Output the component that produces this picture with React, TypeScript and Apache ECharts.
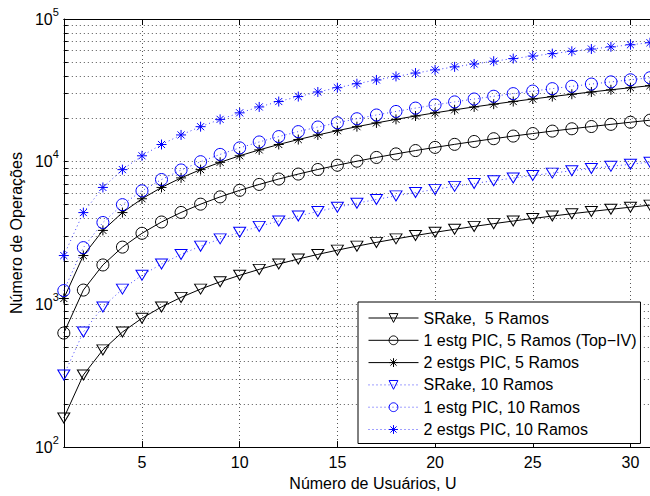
import React, { useEffect, useRef } from 'react';
import * as echarts from 'echarts';

// Número de usuários U
const users = [1, 2, 3, 4, 5, 6, 7, 8, 9, 10, 11, 12, 13, 14, 15, 16, 17, 18, 19, 20, 21, 22, 23, 24, 25, 26, 27, 28, 29, 30, 31];

const srake5 = [160, 320, 480, 640, 800, 960, 1120, 1280, 1440, 1600, 1760, 1920, 2080, 2240, 2400, 2560, 2720, 2880, 3040, 3200, 3360, 3520, 3680, 3840, 4000, 4160, 4320, 4480, 4640, 4800, 4960];
const pic1Est5 = [630, 1260, 1890, 2520, 3150, 3780, 4410, 5040, 5670, 6300, 6930, 7560, 8190, 8820, 9450, 10080, 10710, 11340, 11970, 12600, 13230, 13860, 14490, 15120, 15750, 16380, 17010, 17640, 18270, 18900, 19530];
const pic2Est5 = [1100, 2200, 3300, 4400, 5500, 6600, 7700, 8800, 9900, 11000, 12100, 13200, 14300, 15400, 16500, 17600, 18700, 19800, 20900, 22000, 23100, 24200, 25300, 26400, 27500, 28600, 29700, 30800, 31900, 33000, 34100];
const srake10 = [320, 640, 960, 1280, 1600, 1920, 2240, 2560, 2880, 3200, 3520, 3840, 4160, 4480, 4800, 5120, 5440, 5760, 6080, 6400, 6720, 7040, 7360, 7680, 8000, 8320, 8640, 8960, 9280, 9600, 9920];
const pic1Est10 = [1250, 2500, 3750, 5000, 6250, 7500, 8750, 10000, 11250, 12500, 13750, 15000, 16250, 17500, 18750, 20000, 21250, 22500, 23750, 25000, 26250, 27500, 28750, 30000, 31250, 32500, 33750, 35000, 36250, 37500, 38750];
const pic2Est10 = [2200, 4400, 6600, 8800, 11000, 13200, 15400, 17600, 19800, 22000, 24200, 26400, 28600, 30800, 33000, 35200, 37400, 39600, 41800, 44000, 46200, 48400, 50600, 52800, 55000, 57200, 59400, 61600, 63800, 66000, 68200];

const seriesNames = [
  'SRake,  5 Ramos',
  '1 estg PIC, 5 Ramos (Top−IV)',
  '2 estgs PIC, 5 Ramos',
  'SRake, 10 Ramos',
  '1 estg PIC, 10 Ramos',
  '2 estgs PIC, 10 Ramos',
];

const xTicks = [5, 10, 15, 20, 25, 30];
const yLabelTicks = [100, 1000, 10000, 100000];
const yGridTicks = [
  100, 200, 300, 400, 500, 600, 700, 800, 900,
  1000, 2000, 3000, 4000, 5000, 6000, 7000, 8000, 9000,
  10000, 20000, 30000, 40000, 50000, 60000, 70000, 80000, 90000,
  100000,
];

const TRI = 'path://M0,0L10,0L5,8.66Z';
const STAR = 'path://M5,0L5,10M0,5L10,5M1.46,1.46L8.54,8.54M1.46,8.54L8.54,1.46';
const CIRC = 'circle';

const BLACK = '#000000';
const BLUE = '#0000ff';
const FONT = "'Liberation Sans', Arial, Helvetica, sans-serif";

export default function App() {
  const ref = useRef<HTMLDivElement>(null);

  useEffect(() => {
    if (!ref.current) return;
    const chart = echarts.init(ref.current, undefined, { renderer: 'svg' });

    const mk = (name: string, vals: number[], symbol: string, size: any, color: string, solid: boolean) => ({
      type: 'line',
      name,
      data: users.map((u, i) => [u, vals[i]]),
      symbol,
      symbolSize: size,
      showSymbol: true,
      showAllSymbol: true,
      clip: true,
      silent: true,
      emphasis: { disabled: true },
      lineStyle: { color, width: 1, type: solid ? 'solid' : [1, 3], opacity: solid ? 1 : 0.75 },
      itemStyle: { color: 'none', borderColor: color, borderWidth: 1 },
    });

    const xAxisCommon = {
      type: 'value',
      min: 1,
      max: 31,
      gridIndex: 0,
      axisLine: { show: true, onZero: false, lineStyle: { color: BLACK, width: 1 } },
      axisTick: { show: true, inside: true, length: 6, customValues: xTicks, lineStyle: { color: BLACK } },
    };

    chart.setOption({
      animation: false,
      textStyle: { fontFamily: FONT },
      grid: { left: 62.3, right: -2.7, top: 19, bottom: 45, containLabel: false },
      xAxis: [
        {
          ...xAxisCommon,
          position: 'bottom',
          name: 'Número de Usuários, U',
          nameLocation: 'middle',
          nameGap: 21,
          nameTextStyle: { fontSize: 16, color: BLACK, fontFamily: FONT, padding: [0, 0, 0, 32] },
          axisLabel: { show: true, customValues: xTicks, fontSize: 16, color: BLACK, margin: 7, fontFamily: FONT },
          splitLine: { show: true, lineStyle: { color: '#555', width: 1, type: [1, 3] } },
        },
        {
          ...xAxisCommon,
          position: 'top',
          axisLabel: { show: false },
          splitLine: { show: false },
        },
      ],
      yAxis: {
        type: 'log',
        logBase: 10,
        min: 100,
        max: 100000,
        name: 'Número de Operações',
        nameLocation: 'middle',
        nameGap: 38,
        nameTextStyle: { fontSize: 16, color: BLACK, fontFamily: FONT },
        axisLine: { show: true, onZero: false, lineStyle: { color: BLACK, width: 1 } },
        axisTick: { show: true, inside: true, length: 4, customValues: yGridTicks, lineStyle: { color: BLACK } },
        axisLabel: {
          show: true,
          customValues: yLabelTicks,
          margin: 5,
          formatter: (v: number) => '{b|10}{s|' + Math.round(Math.log10(v)) + '}',
          rich: {
            b: { fontSize: 16, color: BLACK, fontFamily: FONT },
            s: { fontSize: 11, color: BLACK, fontFamily: FONT, padding: [0, 0, 15, 0] },
          },
        },
        splitLine: { show: true, lineStyle: { color: '#555', width: 1, type: [1, 3] } },
        minorTick: { show: false },
        minorSplitLine: { show: false },
      },
      legend: {
        orient: 'vertical',
        left: 358,
        top: 302,
        padding: [8, 4, 6, 10],
        itemGap: 6.3,
        itemWidth: 50,
        itemHeight: 11,
        borderColor: BLACK,
        borderWidth: 1,
        borderRadius: 0,
        backgroundColor: '#ffffff',
        lineStyle: { width: 1 },
        itemStyle: { borderWidth: 1 },
        textStyle: { fontSize: 16, color: BLACK, fontFamily: FONT },
        selectedMode: false,
        data: seriesNames,
      },
      series: [
        mk(seriesNames[0], srake5, TRI, [12, 10], BLACK, true),
        mk(seriesNames[1], pic1Est5, CIRC, 12, BLACK, true),
        mk(seriesNames[2], pic2Est5, STAR, 10, BLACK, true),
        mk(seriesNames[3], srake10, TRI, [12, 10], BLUE, false),
        mk(seriesNames[4], pic1Est10, CIRC, 12, BLUE, false),
        mk(seriesNames[5], pic2Est10, STAR, 10, BLUE, false),
      ],
    });

    return () => chart.dispose();
  }, []);

  return (
    <div
      ref={ref}
      style={{ position: 'absolute', left: 0, top: 0, width: 650, height: 496, background: '#fff' }}
    />
  );
}
